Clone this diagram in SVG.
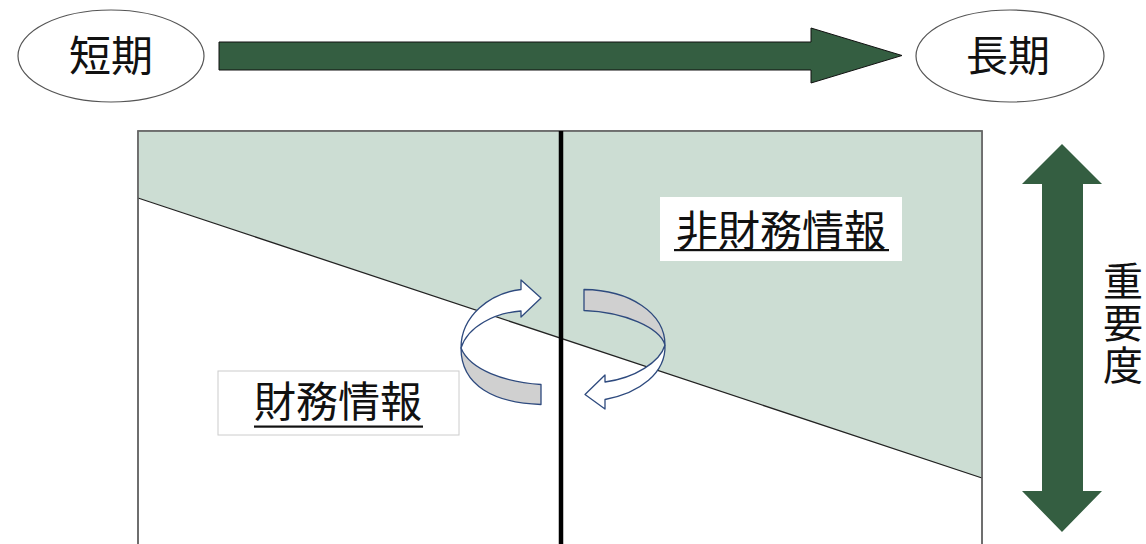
<svg xmlns="http://www.w3.org/2000/svg" width="1146" height="544" viewBox="0 0 1146 544">
<style>
.t{font-family:"Noto Sans CJK JP","Noto Sans CJK SC",sans-serif;font-size:42px;fill:#111;}
.ell{fill:#fff;stroke:#555;stroke-width:1.2;}
.big{fill:#345E41;}
.rib{stroke:#2E4A7E;stroke-width:1.3;stroke-linejoin:round;}
.lab{fill:#fff;}
</style>
<rect width="1146" height="544" fill="#fff"/>
<g id="chart">
<rect x="138" y="131" width="844" height="416" fill="#fff" stroke="#666" stroke-width="1.5"/>
<polygon points="138.8,131.8 981.2,131.8 981.2,478 138.8,198" fill="#CCDDD3"/>
<line x1="138" y1="198" x2="982" y2="478" stroke="#222" stroke-width="1.3"/>
<rect x="138" y="131" width="844" height="416" fill="none" stroke="#666" stroke-width="1.5"/>
<line x1="561" y1="131" x2="561" y2="544" stroke="#000" stroke-width="4.5"/>
</g>
<g id="node-short">
<ellipse class="ell" cx="111" cy="56" rx="93" ry="46"/>
<text class="t" x="111" y="71" text-anchor="middle">短期</text>
</g>
<g id="node-long">
<ellipse class="ell" cx="1010" cy="56" rx="94" ry="46"/>
<text class="t" x="1008" y="71" text-anchor="middle">長期</text>
</g>
<g id="node-financial">
<rect class="lab" x="218" y="371" width="241" height="64" stroke="#ccc" stroke-width="1"/>
<text class="t" x="338" y="417" text-anchor="middle">財務情報</text>
<rect x="254" y="425.5" width="169" height="2.2" fill="#111"/>
</g>
<g id="node-nonfinancial">
<rect class="lab" x="660" y="197" width="242" height="64"/>
<text class="t" x="781" y="246" text-anchor="middle">非財務情報</text>
<rect x="674" y="249" width="215" height="2.2" fill="#111"/>
</g>
<g id="node-importance">
<text class="t" x="1123" y="261" writing-mode="vertical-rl" style="font-size:40px;letter-spacing:2px">重要度</text>
</g>
<g id="connectors">
<path class="big" d="M219,42 L811,42 L811,28 L902,55.5 L811,83 L811,70 L219,70 Z" stroke="#111" stroke-width="1"/>
<path class="big" d="M1062,144 L1102,184 L1083,184 L1083,491 L1102,491 L1062,532 L1022,491 L1042,491 L1042,184 L1022,184 Z"/>
<path class="rib" fill="#fff" d="M461,348 C461,316 490,293 521,289.5 L521,280 L541,298 L521,317 L521,311 C495,313 468,326 461,348 Z"/>
<path class="rib" fill="#D0D0D0" d="M461,348 C470,370 505,382 541,384.5 L541,404.5 C495,403 461,386 461,348 Z"/>
<path class="rib" fill="#D0D0D0" d="M584,289.5 L584,310.5 C625,312 660,328 665,345 C665,313 630,290 584,289.5 Z"/>
<path class="rib" fill="#fff" d="M665,345 C666,373 640,393 605,399.5 L605,409 L585,394.5 L605,375 L605,382 C635,378 660,362 665,345 Z"/>
</g>
</svg>
